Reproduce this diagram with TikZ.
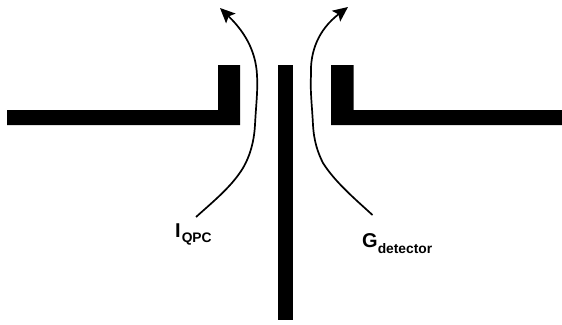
\documentclass[tikz,border=0pt]{standalone}
\usepackage{fontspec}
\setmainfont{Liberation Sans}
\usetikzlibrary{arrows.meta}
\newcommand{\biglabel}[2]{\bfseries\fontsize{20}{24}\selectfont #1\raisebox{-5.5pt}{\fontsize{13.8}{16}\selectfont #2}}
\tikzset{
  gate/.style={fill=black,draw=none},
  flow/.style={line width=1.7pt,-{Stealth[length=15pt,width=13.5pt,inset=3pt]}},
  lab/.style={inner sep=0pt,anchor=base west,text=black}
}
\begin{document}
\begin{tikzpicture}[x=1pt,y=-1pt]
\useasboundingbox (0,0) rectangle (562,324);
\fill[white] (0,0) rectangle (562,324);
\fill[gate] (7,110) -- (218,110) -- (218,65) -- (240,65) -- (240,125) -- (7,125) -- cycle;
\fill[gate] (278,65) rectangle (293,319.5);
\fill[gate] (562,110) -- (353.5,110) -- (353.5,65) -- (331,65) -- (331,125) -- (562,125) -- cycle;
\node[lab] (iqpc) at (175,237) {\biglabel{I\kern1pt}{QPC}};
\node[lab] (gdet) at (362,247.5) {\biglabel{G}{detector}};
\coordinate (istart) at (196,217);
\coordinate (iend) at (220,8);
\coordinate (gstart) at (372.5,215);
\coordinate (gend) at (348,7);
\draw[flow] (istart) .. controls (215,200) and (232,186) .. (243,168) .. controls (250,156) and (254,142) .. (255,125) .. controls (256,105) and (258,90) .. (257,75) .. controls (256,55) and (248,35) .. (iend);
\draw[flow] (gstart) .. controls (355,199) and (335,182) .. (323,163) .. controls (318,153) and (314,142) .. (313,125) .. controls (312,105) and (310,90) .. (311,75) .. controls (310,52) and (318,30) .. (gend);
\end{tikzpicture}
\end{document}
